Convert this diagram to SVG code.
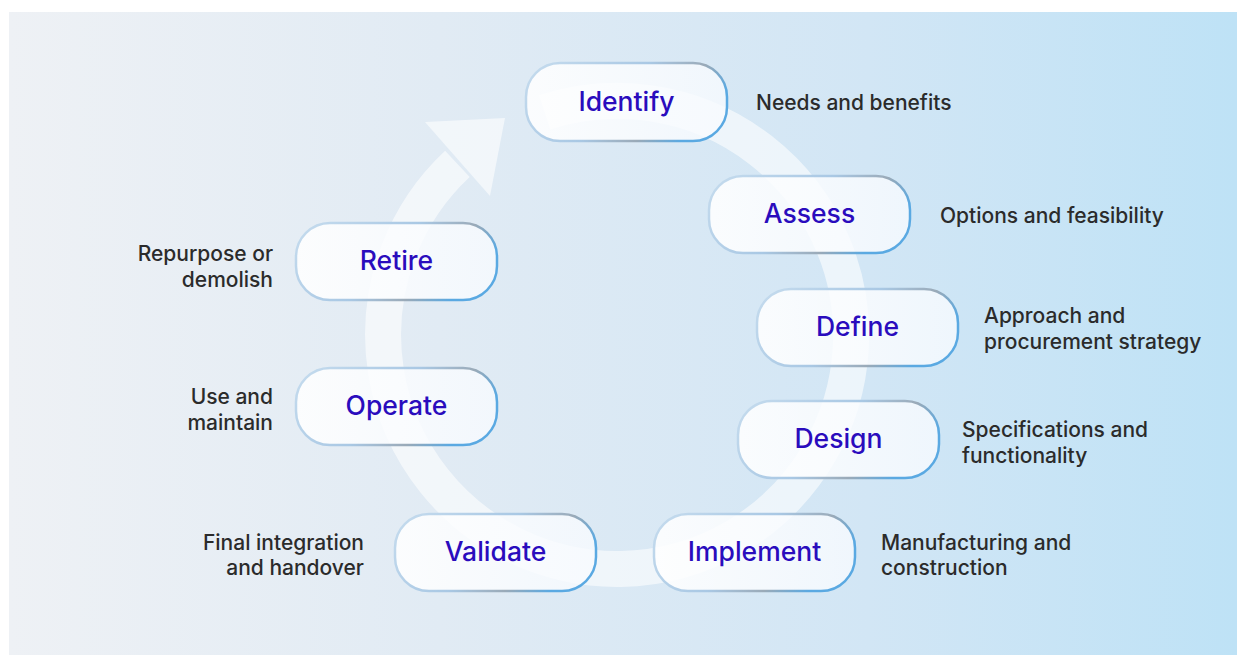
<svg xmlns="http://www.w3.org/2000/svg" width="1237" height="655" viewBox="0 0 1237 655">
<defs>
<linearGradient id="bg" x1="0" y1="0" x2="1" y2="0">
<stop offset="0" stop-color="#eef1f5"/>
<stop offset="0.35" stop-color="#e1ebf4"/>
<stop offset="0.7" stop-color="#d2e6f5"/>
<stop offset="1" stop-color="#bee2f6"/>
</linearGradient>
<linearGradient id="nodeStroke" x1="0" y1="0" x2="1" y2="0.35">
<stop offset="0" stop-color="#c6dcee"/>
<stop offset="0.55" stop-color="#a9c8e4"/>
<stop offset="0.8" stop-color="#9aaab8"/>
<stop offset="1" stop-color="#5aa9e2"/>
</linearGradient>
<linearGradient id="nodeFill" x1="0" y1="0" x2="1" y2="0">
<stop offset="0" stop-color="#ffffff" stop-opacity="0.88"/>
<stop offset="1" stop-color="#f8fbff" stop-opacity="0.78"/>
</linearGradient>
</defs>
<style>
.node rect{fill:url(#nodeFill);stroke:url(#nodeStroke);stroke-width:2.5}
.label{font-family:Inter,"Noto Sans",sans-serif;font-size:26.5px;font-weight:500;fill:#2a0cbd;text-anchor:middle}
.desc{font-family:Inter,"Noto Sans",sans-serif;font-size:21px;font-weight:500;fill:#2b2b2b}
.r{text-anchor:end}
.ring{fill:none;stroke:#ffffff;stroke-opacity:0.58;stroke-width:36}
</style>
<rect x="9" y="12" width="1228" height="643" fill="url(#bg)"/>
<g id="connectors">
<path class="ring" d="M544.7,112.4 A234,234 0 1 1 457.4,163.9"/>
<polygon points="425,122 505,118 490,196" fill="#ffffff" fill-opacity="0.58"/>
</g>
<g id="identify" class="node">
<rect x="526" y="63" width="201" height="78" rx="34"/>
<text class="label" x="626.5" y="111">Identify</text>
</g>
<g id="assess" class="node">
<rect x="709" y="176" width="201" height="77" rx="34"/>
<text class="label" x="809.5" y="223">Assess</text>
</g>
<g id="define" class="node">
<rect x="757" y="289" width="201" height="77" rx="34"/>
<text class="label" x="857.5" y="336">Define</text>
</g>
<g id="design" class="node">
<rect x="738" y="401" width="201" height="77" rx="34"/>
<text class="label" x="838.5" y="448">Design</text>
</g>
<g id="implement" class="node">
<rect x="654" y="514" width="201" height="77" rx="34"/>
<text class="label" x="754.5" y="561">Implement</text>
</g>
<g id="validate" class="node">
<rect x="395" y="514" width="201" height="77" rx="34"/>
<text class="label" x="495.5" y="561">Validate</text>
</g>
<g id="operate" class="node">
<rect x="296" y="368" width="201" height="77" rx="34"/>
<text class="label" x="396.5" y="415">Operate</text>
</g>
<g id="retire" class="node">
<rect x="296" y="223" width="201" height="77" rx="34"/>
<text class="label" x="396.5" y="270">Retire</text>
</g>
<g id="descriptions">
<text class="desc" x="756" y="110">Needs and benefits</text>
<text class="desc" x="940" y="223">Options and feasibility</text>
<text class="desc" x="984" y="323">Approach and</text>
<text class="desc" x="984" y="349">procurement strategy</text>
<text class="desc" x="962" y="437">Specifications and</text>
<text class="desc" x="962" y="463">functionality</text>
<text class="desc" x="881" y="550">Manufacturing and</text>
<text class="desc" x="881" y="575">construction</text>
<text class="desc r" x="273" y="261">Repurpose or</text>
<text class="desc r" x="273" y="287">demolish</text>
<text class="desc r" x="273" y="404">Use and</text>
<text class="desc r" x="273" y="430">maintain</text>
<text class="desc r" x="364" y="550">Final integration</text>
<text class="desc r" x="364" y="575">and handover</text>
</g>
</svg>
